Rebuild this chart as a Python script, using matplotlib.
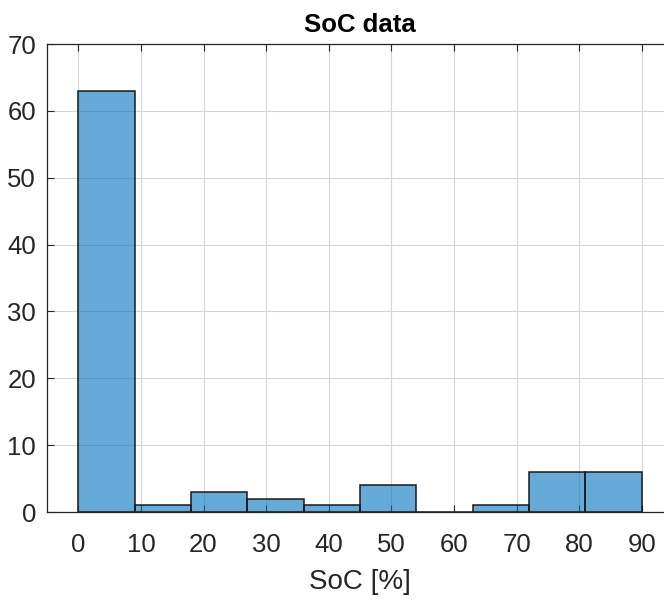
import numpy as np
import matplotlib.pyplot as plt

plt.rcParams['font.family'] = ['Liberation Sans', 'DejaVu Sans']

# histogram bin edges and counts
bin_edges = [0, 9, 18, 27, 36, 45, 54, 63, 72, 81, 90]
counts = [63, 1, 3, 2, 1, 4, 0, 1, 6, 6]

x_ticks = [0, 10, 20, 30, 40, 50, 60, 70, 80, 90]
y_ticks = [0, 10, 20, 30, 40, 50, 60, 70]

axis_col = '#262626'

fig = plt.figure(figsize=(6.64, 6.03), dpi=100)
ax = fig.add_axes([47 / 664, 91 / 603, 626 / 664, 468 / 603])

# translucent fill + dark outlines, like a default histogram
ax.stairs(counts, bin_edges, fill=True, color='#0072BD', alpha=0.6, zorder=3)
widths = np.diff(bin_edges)
ax.bar(bin_edges[:-1], counts, width=widths, align='edge', fill=False,
       edgecolor='#1a1a1a', linewidth=1.1, zorder=4)

ax.set_xlim(-5, 95)
ax.set_ylim(0, 70)
ax.set_xticks(x_ticks)
ax.set_yticks(y_ticks)
ax.grid(True, color='#d6d6d6', linewidth=0.8, zorder=0)
ax.set_axisbelow(True)

ax.tick_params(direction='in', length=5, width=0.8, colors=axis_col,
               labelsize=18.5, top=True, right=False)
ax.tick_params(axis='x', pad=15)
ax.tick_params(axis='y', pad=8)
ax.spines['right'].set_visible(False)
for s in ax.spines.values():
    s.set_color(axis_col)
    s.set_linewidth(0.9)

ax.set_title('SoC data', fontsize=18.5, fontweight='bold', pad=9)
ax.set_xlabel('SoC [%]', fontsize=20, color=axis_col, labelpad=9)

fig.savefig('out.png', dpi=100)
